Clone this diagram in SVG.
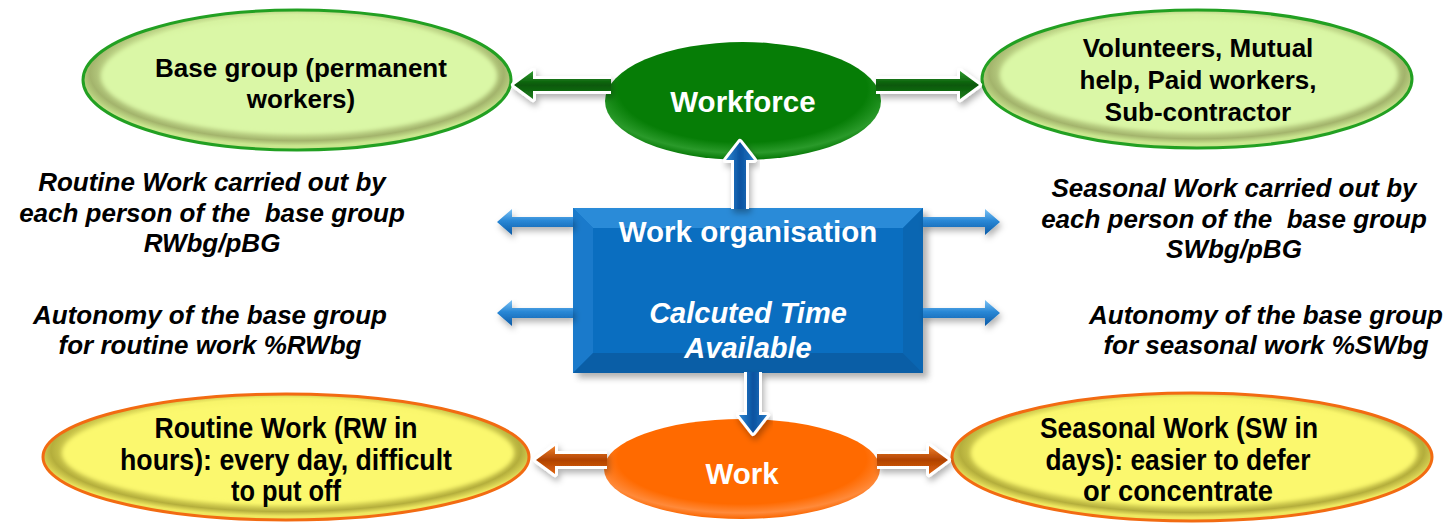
<svg xmlns="http://www.w3.org/2000/svg" width="1450" height="525" viewBox="0 0 1450 525">
<defs>
  <filter id="shadow" x="-20%" y="-40%" width="140%" height="200%">
    <feDropShadow dx="2" dy="4" stdDeviation="3" flood-color="#000" flood-opacity="0.3"/>
  </filter>
  <filter id="soft" x="-10%" y="-10%" width="120%" height="120%">
    <feGaussianBlur stdDeviation="2"/>
  </filter>
  <filter id="boxshadow" x="-10%" y="-10%" width="120%" height="130%">
    <feGaussianBlur stdDeviation="3"/>
  </filter>
  <radialGradient id="rimGreen" cx="50%" cy="45%" r="52%">
    <stop offset="0.8" stop-color="#d6f2a0"/>
    <stop offset="0.93" stop-color="#a3b46c"/>
    <stop offset="1" stop-color="#c9e68e"/>
  </radialGradient>
  <radialGradient id="rimYellow" cx="50%" cy="45%" r="52%">
    <stop offset="0.8" stop-color="#f7f46a"/>
    <stop offset="0.93" stop-color="#b4ae3c"/>
    <stop offset="1" stop-color="#eee860"/>
  </radialGradient>
  <radialGradient id="gWorkforce" cx="50%" cy="40%" r="60%">
    <stop offset="0.75" stop-color="#067d06"/>
    <stop offset="0.9" stop-color="#2a9a2a"/>
    <stop offset="1" stop-color="#067806"/>
  </radialGradient>
  <radialGradient id="gWork" cx="50%" cy="40%" r="60%">
    <stop offset="0.75" stop-color="#ff6a00"/>
    <stop offset="0.9" stop-color="#ff8a3a"/>
    <stop offset="1" stop-color="#fa6600"/>
  </radialGradient>
  <linearGradient id="arrGreen" x1="0" y1="0" x2="0" y2="1">
    <stop offset="0" stop-color="#2f9a2f"/>
    <stop offset="0.5" stop-color="#065806"/>
    <stop offset="1" stop-color="#1f7f1f"/>
  </linearGradient>
  <linearGradient id="arrOrange" x1="0" y1="0" x2="0" y2="1">
    <stop offset="0" stop-color="#f0802c"/>
    <stop offset="0.5" stop-color="#b04200"/>
    <stop offset="1" stop-color="#e06410"/>
  </linearGradient>
  <linearGradient id="arrBlueH" x1="0" y1="0" x2="0" y2="1">
    <stop offset="0" stop-color="#7cc2f4"/>
    <stop offset="0.45" stop-color="#2a88d6"/>
    <stop offset="1" stop-color="#0b5aa6"/>
  </linearGradient>
  <linearGradient id="arrBlueV" x1="0" y1="0" x2="1" y2="0">
    <stop offset="0" stop-color="#2f86d2"/>
    <stop offset="0.5" stop-color="#0a52a0"/>
    <stop offset="1" stop-color="#2277c4"/>
  </linearGradient>
  <style>
    text { white-space: pre; }
    .nt { font-family: "Liberation Sans", Arial, sans-serif; font-weight: bold; font-size: 26px; fill: #000; text-anchor: middle; }
    .nn { font-family: "Liberation Sans", Arial, sans-serif; font-weight: bold; font-size: 29px; fill: #000; text-anchor: middle; }
    .wt { font-family: "Liberation Sans", Arial, sans-serif; font-weight: bold; font-size: 29.5px; fill: #fff; text-anchor: middle; }
    .wi { font-family: "Liberation Sans", Arial, sans-serif; font-weight: bold; font-style: italic; font-size: 29px; fill: #fff; text-anchor: middle; }
    .it { font-family: "Liberation Sans", Arial, sans-serif; font-weight: bold; font-style: italic; font-size: 26px; fill: #000; text-anchor: middle; }
    .outline { fill: none; stroke: #fff; stroke-width: 6; stroke-linejoin: round; }
  </style>
</defs>

<rect width="1450" height="525" fill="#fff"/>

<g id="node-base-group">
  <ellipse cx="297" cy="80" rx="214" ry="70" fill="url(#rimGreen)" stroke="#22a022" stroke-width="3"/>
  <ellipse cx="299" cy="76" rx="198" ry="57" fill="#daf7a6" filter="url(#soft)"/>
  <text class="nt" x="301" y="77">Base group (permanent</text>
  <text class="nt" x="301" y="108">workers)</text>
</g>

<g id="node-workforce">
  <ellipse cx="743" cy="101" rx="138" ry="59" fill="url(#gWorkforce)"/>
  <text class="wt" x="743" y="112">Workforce</text>
</g>

<g id="node-other-workers">
  <ellipse cx="1197" cy="79" rx="215" ry="69" fill="url(#rimGreen)" stroke="#22a022" stroke-width="3"/>
  <ellipse cx="1199" cy="75" rx="199" ry="56" fill="#daf7a6" filter="url(#soft)"/>
  <text class="nt" x="1198" y="57">Volunteers, Mutual</text>
  <text class="nt" x="1198" y="89">help, Paid workers,</text>
  <text class="nt" x="1198" y="121">Sub-contractor</text>
</g>

<g id="node-work-organisation">
  <rect x="578" y="213" width="350" height="165" fill="#555" opacity="0.45" filter="url(#boxshadow)"/>
  <rect x="573" y="208" width="350" height="165" fill="#0b6fc0"/>
  <polygon points="573,208 923,208 903,228 593,228" fill="#2a8bd8"/>
  <polygon points="573,208 593,228 593,353 573,373" fill="#1a7acb"/>
  <polygon points="923,208 923,373 903,353 903,228" fill="#0a66b2"/>
  <polygon points="573,373 593,353 903,353 923,373" fill="#0a5ea6"/>
  <rect x="593" y="228" width="310" height="125" fill="#0a6ec0"/>
  <text class="wt" x="748" y="242">Work organisation</text>
  <text class="wi" x="748" y="323">Calcuted Time</text>
  <text class="wi" x="748" y="358">Available</text>
</g>

<g id="node-routine-work-text">
  <text class="it" x="212" y="191">Routine Work carried out by</text>
  <text class="it" x="212" y="222">each person of the  base group</text>
  <text class="it" x="212" y="252">RWbg/pBG</text>
</g>

<g id="node-routine-autonomy-text">
  <text class="it" x="210" y="324">Autonomy of the base group</text>
  <text class="it" x="210" y="354">for routine work %RWbg</text>
</g>

<g id="node-seasonal-work-text">
  <text class="it" x="1234" y="197">Seasonal Work carried out by</text>
  <text class="it" x="1234" y="228">each person of the  base group</text>
  <text class="it" x="1234" y="258">SWbg/pBG</text>
</g>

<g id="node-seasonal-autonomy-text">
  <text class="it" x="1266" y="324">Autonomy of the base group</text>
  <text class="it" x="1266" y="354">for seasonal work %SWbg</text>
</g>

<g id="node-routine-work">
  <ellipse cx="286" cy="457" rx="243" ry="63" fill="url(#rimYellow)" stroke="#f26b12" stroke-width="3"/>
  <ellipse cx="288" cy="453" rx="226" ry="51" fill="#fbf86e" filter="url(#soft)"/>
  <text class="nn" x="286" y="438" textLength="263" lengthAdjust="spacingAndGlyphs">Routine Work (RW in</text>
  <text class="nn" x="286" y="470" textLength="332" lengthAdjust="spacingAndGlyphs">hours): every day, difficult</text>
  <text class="nn" x="286" y="501" textLength="110" lengthAdjust="spacingAndGlyphs">to put off</text>
</g>

<g id="node-work">
  <ellipse cx="742" cy="469" rx="138" ry="50" fill="url(#gWork)"/>
  <text class="wt" x="742" y="484">Work</text>
</g>

<g id="node-seasonal-work">
  <ellipse cx="1192" cy="457" rx="240" ry="64" fill="url(#rimYellow)" stroke="#f26b12" stroke-width="3"/>
  <ellipse cx="1194" cy="453" rx="223" ry="52" fill="#fbf86e" filter="url(#soft)"/>
  <text class="nn" x="1179" y="438" textLength="278" lengthAdjust="spacingAndGlyphs">Seasonal Work (SW in</text>
  <text class="nn" x="1178" y="470" textLength="265" lengthAdjust="spacingAndGlyphs">days): easier to defer</text>
  <text class="nn" x="1178" y="501" textLength="190" lengthAdjust="spacingAndGlyphs">or concentrate</text>
</g>

<g id="connectors">
  <!-- green arrows from Workforce -->
  <g filter="url(#shadow)">
    <polyline class="outline" points="611,79 533,79 533,71 514,85 533,99 533,91 611,91"/>
    <polygon fill="url(#arrGreen)" points="514,85 533,71 533,79 611,79 611,91 533,91 533,99"/>
  </g>
  <g filter="url(#shadow)">
    <polyline class="outline" points="876,79 960,79 960,71 979,85 960,99 960,91 876,91"/>
    <polygon fill="url(#arrGreen)" points="979,85 960,71 960,79 876,79 876,91 960,91 960,99"/>
  </g>
  <!-- orange arrows from Work -->
  <g filter="url(#shadow)">
    <polyline class="outline" points="607,454 555,454 555,446 536,460 555,474 555,466 607,466"/>
    <polygon fill="url(#arrOrange)" points="536,460 555,446 555,454 607,454 607,466 555,466 555,474"/>
  </g>
  <g filter="url(#shadow)">
    <polyline class="outline" points="877,454 929,454 929,446 948,460 929,474 929,466 877,466"/>
    <polygon fill="url(#arrOrange)" points="948,460 929,446 929,454 877,454 877,466 929,466 929,474"/>
  </g>
  <!-- vertical blue arrows -->
  <g filter="url(#shadow)">
    <polyline class="outline" points="734,209 734,160 726,160 740,142 754,160 746,160 746,209"/>
    <polygon fill="url(#arrBlueV)" points="740,142 754,160 746,160 746,209 734,209 734,160 726,160"/>
  </g>
  <g filter="url(#shadow)">
    <polyline class="outline" points="747,372 747,415 739,415 753,433 767,415 759,415 759,372"/>
    <polygon fill="url(#arrBlueV)" points="753,433 767,415 759,415 759,372 747,372 747,415 739,415"/>
  </g>
  <!-- horizontal blue arrows -->
  <g filter="url(#shadow)">
    <polygon fill="url(#arrBlueH)" points="497,222 512,209 512,217 573,217 573,227 512,227 512,235"/>
    <polygon fill="url(#arrBlueH)" points="497,313 512,300 512,308 573,308 573,318 512,318 512,326"/>
    <polygon fill="url(#arrBlueH)" points="1000,222 985,209 985,217 923,217 923,227 985,227 985,235"/>
    <polygon fill="url(#arrBlueH)" points="1000,313 985,300 985,308 923,308 923,318 985,318 985,326"/>
  </g>
</g>
</svg>
